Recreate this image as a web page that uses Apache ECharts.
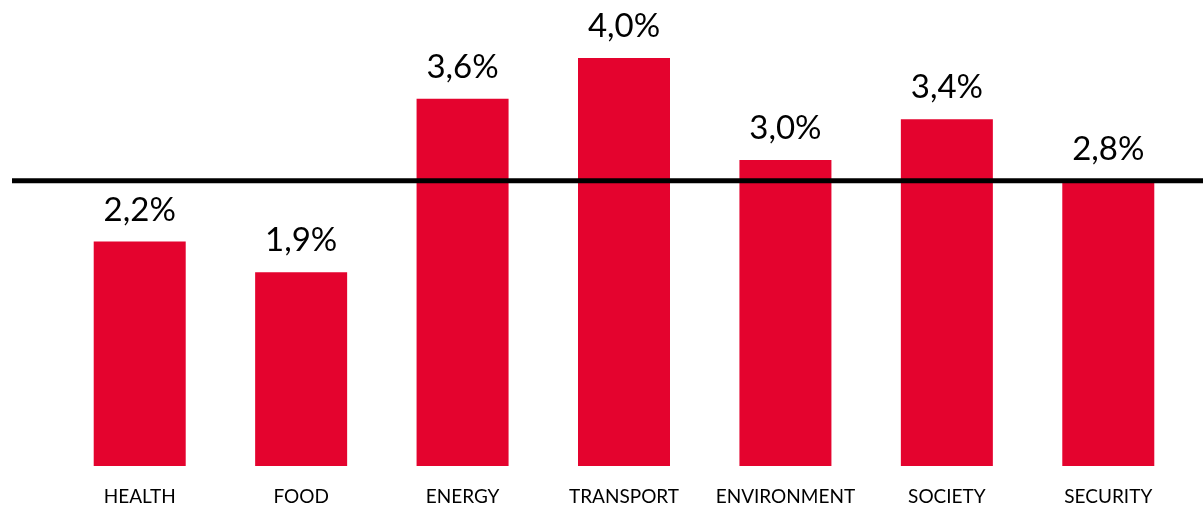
<!DOCTYPE html>
<html><head><meta charset="utf-8">
<script src="https://cdn.jsdelivr.net/npm/echarts@6/dist/echarts.min.js"></script>
<style>html,body{margin:0;padding:0;background:#fff}#c{width:1203px;height:506px}</style>
</head><body><div id="c"></div>
<script>
const categories = ['HEALTH','FOOD','ENERGY','TRANSPORT','ENVIRONMENT','SOCIETY','SECURITY'];
const values = [2.2, 1.9, 3.6, 4.0, 3.0, 3.4, 2.8];
const referenceLine = 2.8;
const FONT = 'Lato';
const chart = echarts.init(document.getElementById('c'));
chart.setOption({
  animation: false,
  grid: [
    {left: 59, right: 14, top: 7, bottom: 39},
    {left: 12, right: 0, top: 7, bottom: 39}
  ],
  xAxis: [
    {type: 'category', data: categories, gridIndex: 0,
     axisLine: {show: false}, axisTick: {show: false},
     axisLabel: {color: '#000', fontFamily: FONT, fontSize: 19, margin: 21, interval: 0}},
    {type: 'value', gridIndex: 1, min: 0, max: 1, show: false}
  ],
  yAxis: [
    {type: 'value', gridIndex: 0, min: 0, max: 4.5, show: false, splitLine: {show: false}},
    {type: 'value', gridIndex: 1, min: 0, max: 4.5, show: false, splitLine: {show: false}}
  ],
  series: [
    {type: 'bar', xAxisIndex: 0, yAxisIndex: 0, data: values, barWidth: 92,
     itemStyle: {color: '#E4032E'},
     label: {show: true, position: 'top', distance: 15, color: '#000',
       fontFamily: FONT, fontSize: 33,
       formatter: p => p.value.toFixed(1).replace('.', ',') + '%'}},
    {type: 'line', xAxisIndex: 1, yAxisIndex: 1, data: [[0, referenceLine], [1, referenceLine]],
     symbol: 'none', lineStyle: {color: '#000', width: 5}, z: 5}
  ]
});
</script></body></html>
